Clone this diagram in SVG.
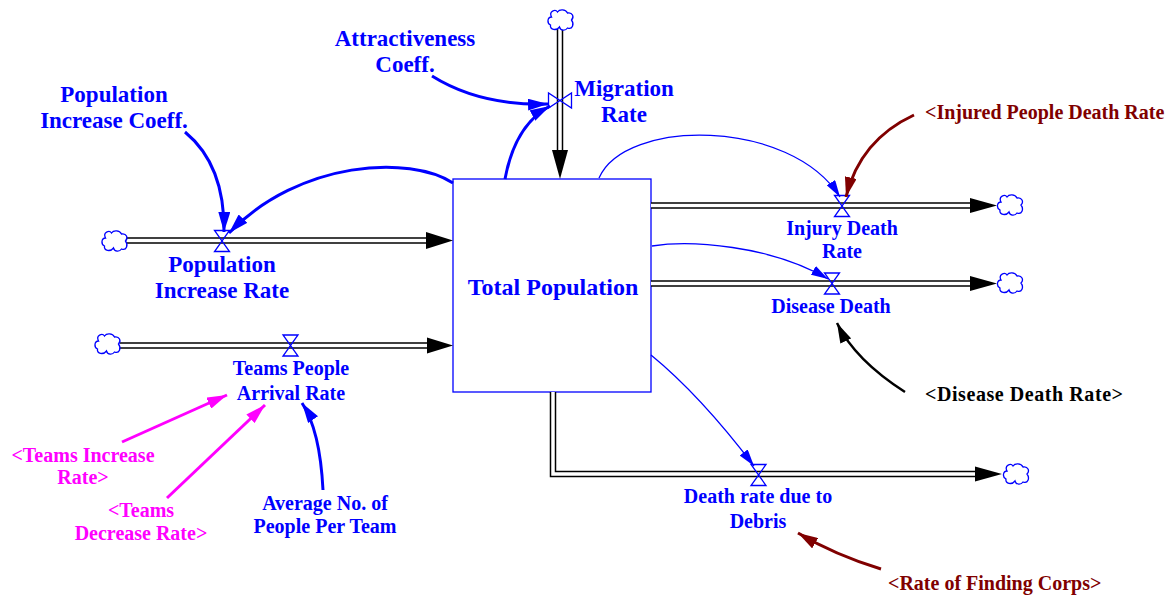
<svg xmlns="http://www.w3.org/2000/svg" xmlns:xlink="http://www.w3.org/1999/xlink" width="1172" height="596" viewBox="0 0 1172 596">
<style>
.t{font-family:"Liberation Serif","Times New Roman",serif;font-weight:bold;text-anchor:middle}
.s{text-anchor:start}
.big{font-size:23px}
.sm{font-size:20px}
.blue{fill:#0000ff}
.mag{fill:#ff00ff}
.dred{fill:#800000}
.blk{fill:#000000}
.pipeO{fill:none;stroke:#000;stroke-width:6.5;stroke-linejoin:miter}
.pipeI{fill:none;stroke:#fff;stroke-width:3.5;stroke-linejoin:miter}
.head{fill:#000}
.cloud{fill:#fff;stroke:#0000ff;stroke-width:1.3}
.valve{fill:none;stroke:#0000ff;stroke-width:1.3}
.cb{fill:none;stroke:#0000ff;stroke-width:3}
.cbt{fill:none;stroke:#0000ff;stroke-width:1.3}
.cm{fill:none;stroke:#ff00ff;stroke-width:3}
.cr{fill:none;stroke:#800000;stroke-width:3}
.ck{fill:none;stroke:#000;stroke-width:2.5}
</style>
<defs>
<path id="cloud" d="M -9,-3 C -12,-9 -5,-11 -3,-8 C -1,-11 5,-11 7,-7 C 12,-8 14,-3 11,0 C 14,4 12,10 7,8 C 5,11 0,11 -1,7 C -4,11 -11,10 -10,5 C -14,3 -13,-3 -9,-3 Z"/>
<path id="valveH" d="M-7.5,-10.5 H7.5 L-7.5,10.5 H7.5 Z"/>
<path id="valveV" d="M-11.5,-7.5 V7.5 L11.5,-7.5 V7.5 Z"/>
<marker id="aB" markerUnits="userSpaceOnUse" markerWidth="20" markerHeight="12" refX="20" refY="6" orient="auto"><path d="M0,0 L20,6 L0,12 Z" fill="#0000ff"/></marker>
<marker id="aBt" markerUnits="userSpaceOnUse" markerWidth="17" markerHeight="10" refX="17" refY="5" orient="auto"><path d="M0,0 L17,5 L0,10 Z" fill="#0000ff"/></marker>
<marker id="aM" markerUnits="userSpaceOnUse" markerWidth="20" markerHeight="12" refX="20" refY="6" orient="auto"><path d="M0,0 L20,6 L0,12 Z" fill="#ff00ff"/></marker>
<marker id="aR" markerUnits="userSpaceOnUse" markerWidth="20" markerHeight="12" refX="20" refY="6" orient="auto"><path d="M0,0 L20,6 L0,12 Z" fill="#800000"/></marker>
<marker id="aK" markerUnits="userSpaceOnUse" markerWidth="20" markerHeight="12" refX="20" refY="6" orient="auto"><path d="M0,0 L20,6 L0,12 Z" fill="#000000"/></marker>
</defs>
<rect width="1172" height="596" fill="#ffffff"/>

<g id="total-population">
<rect x="453" y="179" width="198" height="213" fill="#fff" stroke="#0000ff" stroke-width="1.3"/>
<text class="t blue" x="553" y="295" style="font-size:24px">Total Population</text>
</g>

<g id="flows">
<g id="population-increase-rate">
<path class="pipeO" d="M126,240.5 H427"/>
<path class="pipeI" d="M126,240.5 H427"/>
<polygon class="head" points="426,232 453,240.5 426,249"/>
<use href="#cloud" class="cloud" x="114.5" y="241"/>
<use href="#valveH" class="valve" x="222" y="241"/>
<text class="t big blue" x="222" y="272">Population</text>
<text class="t big blue" x="222" y="298">Increase Rate</text>
</g>
<g id="teams-people-arrival-rate">
<path class="pipeO" d="M120,345.5 H428"/>
<path class="pipeI" d="M120,345.5 H428"/>
<polygon class="head" points="427,337.5 453,345.5 427,353.5"/>
<use href="#cloud" class="cloud" x="107.5" y="344"/>
<use href="#valveH" class="valve" x="290.5" y="345.5"/>
<text class="t sm blue" x="291" y="375">Teams People</text>
<text class="t sm blue" x="291" y="400">Arrival Rate</text>
</g>
<g id="migration-rate">
<path class="pipeO" d="M560,29 V151"/>
<path class="pipeI" d="M560,29 V151"/>
<polygon class="head" points="552,150 560,179 568,150"/>
<use href="#cloud" class="cloud" x="560.5" y="20"/>
<use href="#valveV" class="valve" x="560" y="100.5"/>
<text class="t big blue" x="624" y="96">Migration</text>
<text class="t big blue" x="624" y="122">Rate</text>
</g>
<g id="injury-death-rate">
<path class="pipeO" d="M651,205.5 H971"/>
<path class="pipeI" d="M651,205.5 H971"/>
<polygon class="head" points="970,198 997,205.5 970,213"/>
<use href="#cloud" class="cloud" x="1010" y="205"/>
<use href="#valveH" class="valve" x="842" y="206"/>
<text class="t sm blue" x="842" y="235">Injury Death</text>
<text class="t sm blue" x="842" y="258">Rate</text>
</g>
<g id="disease-death">
<path class="pipeO" d="M651,283.5 H971"/>
<path class="pipeI" d="M651,283.5 H971"/>
<polygon class="head" points="970,276 997,283.5 970,291"/>
<use href="#cloud" class="cloud" x="1010" y="283"/>
<use href="#valveH" class="valve" x="832" y="283.5"/>
<text class="t sm blue" x="831" y="313">Disease Death</text>
</g>
<g id="death-rate-due-to-debris">
<path class="pipeO" d="M553,392 V474 H976"/>
<path class="pipeI" d="M553,392 V474 H976"/>
<polygon class="head" points="975,466.5 1002,474 975,481.5"/>
<use href="#cloud" class="cloud" x="1016" y="474"/>
<use href="#valveH" class="valve" x="758.5" y="475"/>
<text class="t sm blue" x="758" y="503">Death rate due to</text>
<text class="t sm blue" x="758" y="528">Debris</text>
</g>
</g>

<g id="population-increase-coeff">
<text class="t big blue" x="114" y="102">Population</text>
<text class="t big blue" x="114" y="128">Increase Coeff.</text>
</g>
<g id="attractiveness-coeff">
<text class="t big blue" x="405" y="46">Attractiveness</text>
<text class="t big blue" x="405" y="72">Coeff.</text>
</g>
<g id="injured-people-death-rate">
<text class="t s sm dred" x="925" y="119">&lt;Injured People Death Rate</text>
</g>
<g id="disease-death-rate">
<text class="t s sm blk" x="925" y="401" textLength="198" lengthAdjust="spacing">&lt;Disease Death Rate&gt;</text>
</g>
<g id="rate-of-finding-corps">
<text class="t s sm dred" x="888" y="590">&lt;Rate of Finding Corps&gt;</text>
</g>
<g id="teams-increase-rate">
<text class="t sm mag" x="83" y="462">&lt;Teams Increase</text>
<text class="t sm mag" x="83" y="484">Rate&gt;</text>
</g>
<g id="teams-decrease-rate">
<text class="t sm mag" x="141" y="517">&lt;Teams</text>
<text class="t sm mag" x="141" y="540">Decrease Rate&gt;</text>
</g>
<g id="average-people-per-team">
<text class="t sm blue" x="325" y="510">Average No. of</text>
<text class="t sm blue" x="325" y="533">People Per Team</text>
</g>

<g id="connectors">
<path class="cb" marker-end="url(#aB)" d="M185,132 Q225,165 224,232"/>
<path class="cb" marker-end="url(#aB)" d="M453,183 C410,155 300,160 229,233"/>
<path class="cb" marker-end="url(#aB)" d="M432,76 Q480,106 548,104"/>
<path class="cb" marker-end="url(#aB)" d="M505,179 Q515,125 550,106"/>
<path class="cbt" marker-end="url(#aBt)" d="M599,178 C625,118 790,118 840,197"/>
<path class="cbt" marker-end="url(#aBt)" d="M652,246 C690,240 770,245 828,279"/>
<path class="cbt" marker-end="url(#aBt)" d="M651,355 Q700,395 754,466"/>
<path class="cr" marker-end="url(#aR)" d="M914,115 Q860,140 846,197"/>
<path class="ck" marker-end="url(#aK)" d="M905,392 Q855,360 837,323"/>
<path class="cr" marker-end="url(#aR)" d="M881,569 Q835,555 798,533"/>
<path class="cm" marker-end="url(#aM)" d="M122,442 L227,395"/>
<path class="cm" marker-end="url(#aM)" d="M167,498 L265,405"/>
<path class="cb" marker-end="url(#aB)" d="M323,490 Q320,430 302,403"/>
</g>
</svg>
